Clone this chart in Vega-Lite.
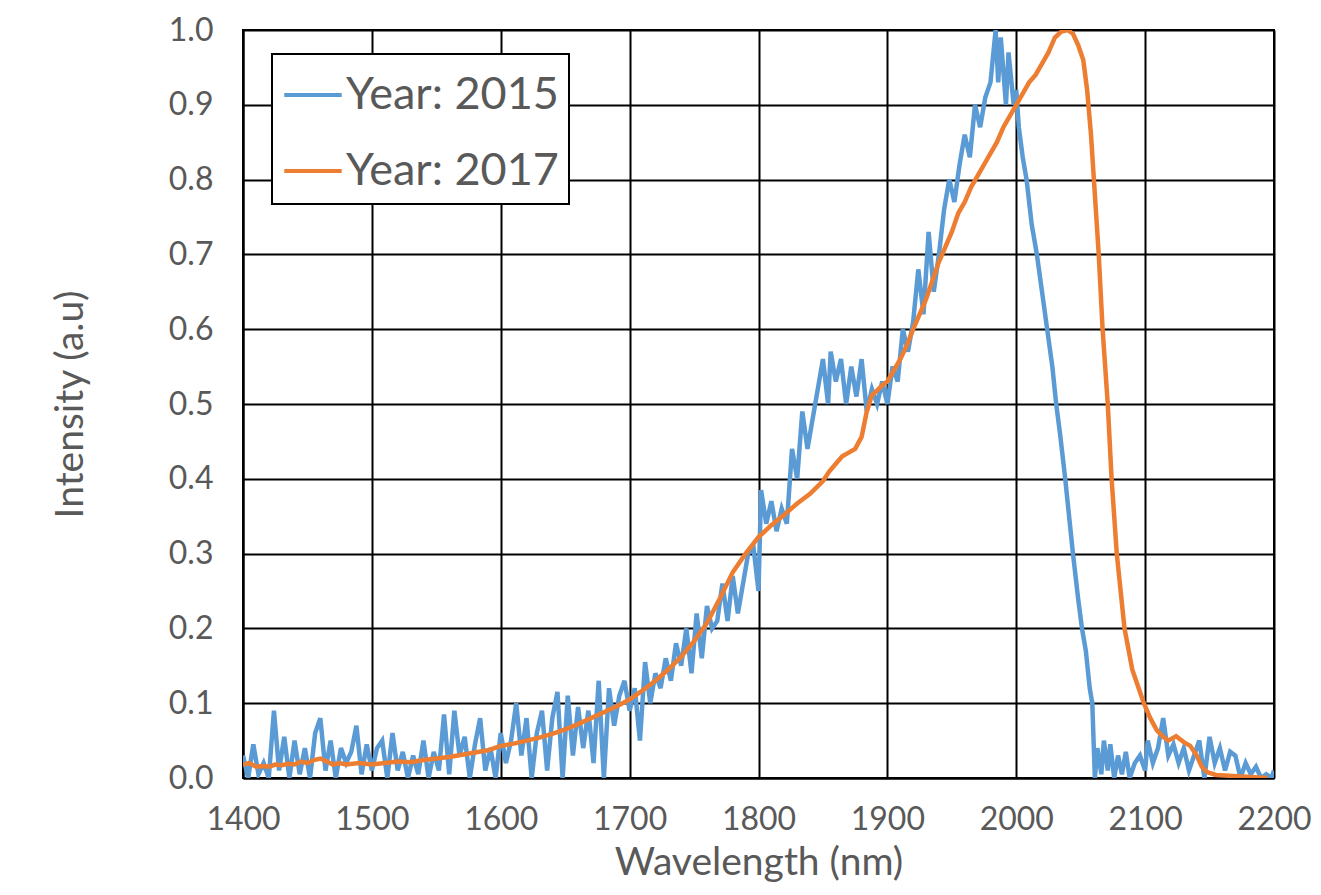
{
  "$schema": "https://vega.github.io/schema/vega-lite/v6.json",
  "width": 1031,
  "height": 748,
  "autosize": {"type": "none"},
  "padding": {"left": 243, "top": 30, "right": 47, "bottom": 117},
  "background": "white",
  "config": {
    "font": "Lato",
    "view": {"stroke": "black", "strokeWidth": 2},
    "axis": {
      "gridColor": "black", "gridWidth": 2, "gridOpacity": 1,
      "domainColor": "black", "domainWidth": 2,
      "ticks": false, "labelFlush": false, "labelOverlap": false,
      "labelColor": "#595959", "labelFont": "Lato", "labelFontSize": 32,
      "titleColor": "#595959", "titleFont": "Lato", "titleFontSize": 39, "titleFontWeight": "normal"
    },
    "legend": {
      "orient": "none", "legendX": 29, "legendY": 24,
      "fillColor": "white", "strokeColor": "black", "strokeWidth": 2,
      "padding": 10,
      "labelFont": "Lato", "labelFontSize": 45, "labelColor": "#595959", "labelLimit": 400,
      "symbolType": "stroke", "symbolSize": 3300, "symbolStrokeWidth": 4,
      "rowPadding": 22, "labelOffset": 2, "title": null
    }
  },
  "data": {"values": [
    {"s":"Year: 2015","w":1400,"v":0.03},{"s":"Year: 2015","w":1404,"v":0.0},{"s":"Year: 2015","w":1408,"v":0.045},{"s":"Year: 2015","w":1412,"v":0.005},{"s":"Year: 2015","w":1416,"v":0.02},{"s":"Year: 2015","w":1420,"v":0.0},{"s":"Year: 2015","w":1424,"v":0.09},{"s":"Year: 2015","w":1428,"v":0.01},{"s":"Year: 2015","w":1432,"v":0.055},{"s":"Year: 2015","w":1436,"v":0.0},{"s":"Year: 2015","w":1440,"v":0.05},{"s":"Year: 2015","w":1444,"v":0.005},{"s":"Year: 2015","w":1448,"v":0.04},{"s":"Year: 2015","w":1452,"v":0.0},{"s":"Year: 2015","w":1456,"v":0.06},{"s":"Year: 2015","w":1460,"v":0.08},{"s":"Year: 2015","w":1464,"v":0.01},{"s":"Year: 2015","w":1468,"v":0.05},{"s":"Year: 2015","w":1472,"v":0.0},{"s":"Year: 2015","w":1476,"v":0.04},{"s":"Year: 2015","w":1480,"v":0.02},{"s":"Year: 2015","w":1484,"v":0.035},{"s":"Year: 2015","w":1488,"v":0.07},{"s":"Year: 2015","w":1492,"v":0.005},{"s":"Year: 2015","w":1496,"v":0.045},{"s":"Year: 2015","w":1500,"v":0.01},{"s":"Year: 2015","w":1504,"v":0.04},{"s":"Year: 2015","w":1508,"v":0.05},{"s":"Year: 2015","w":1512,"v":0.0},{"s":"Year: 2015","w":1516,"v":0.06},{"s":"Year: 2015","w":1520,"v":0.01},{"s":"Year: 2015","w":1524,"v":0.035},{"s":"Year: 2015","w":1528,"v":0.0},{"s":"Year: 2015","w":1532,"v":0.03},{"s":"Year: 2015","w":1536,"v":0.005},{"s":"Year: 2015","w":1540,"v":0.05},{"s":"Year: 2015","w":1544,"v":0.0},{"s":"Year: 2015","w":1548,"v":0.035},{"s":"Year: 2015","w":1552,"v":0.01},{"s":"Year: 2015","w":1556,"v":0.085},{"s":"Year: 2015","w":1560,"v":0.005},{"s":"Year: 2015","w":1564,"v":0.09},{"s":"Year: 2015","w":1568,"v":0.03},{"s":"Year: 2015","w":1572,"v":0.055},{"s":"Year: 2015","w":1576,"v":0.0},{"s":"Year: 2015","w":1580,"v":0.045},{"s":"Year: 2015","w":1584,"v":0.08},{"s":"Year: 2015","w":1588,"v":0.01},{"s":"Year: 2015","w":1592,"v":0.04},{"s":"Year: 2015","w":1596,"v":0.0},{"s":"Year: 2015","w":1600,"v":0.06},{"s":"Year: 2015","w":1604,"v":0.02},{"s":"Year: 2015","w":1608,"v":0.05},{"s":"Year: 2015","w":1612,"v":0.1},{"s":"Year: 2015","w":1616,"v":0.03},{"s":"Year: 2015","w":1620,"v":0.08},{"s":"Year: 2015","w":1624,"v":0.0},{"s":"Year: 2015","w":1628,"v":0.06},{"s":"Year: 2015","w":1632,"v":0.09},{"s":"Year: 2015","w":1636,"v":0.01},{"s":"Year: 2015","w":1640,"v":0.08},{"s":"Year: 2015","w":1644,"v":0.115},{"s":"Year: 2015","w":1648,"v":0.0},{"s":"Year: 2015","w":1652,"v":0.11},{"s":"Year: 2015","w":1656,"v":0.03},{"s":"Year: 2015","w":1660,"v":0.095},{"s":"Year: 2015","w":1664,"v":0.04},{"s":"Year: 2015","w":1668,"v":0.09},{"s":"Year: 2015","w":1672,"v":0.02},{"s":"Year: 2015","w":1676,"v":0.13},{"s":"Year: 2015","w":1680,"v":0.0},{"s":"Year: 2015","w":1684,"v":0.12},{"s":"Year: 2015","w":1688,"v":0.07},{"s":"Year: 2015","w":1692,"v":0.11},{"s":"Year: 2015","w":1696,"v":0.13},{"s":"Year: 2015","w":1700,"v":0.09},{"s":"Year: 2015","w":1704,"v":0.12},{"s":"Year: 2015","w":1708,"v":0.05},{"s":"Year: 2015","w":1712,"v":0.155},{"s":"Year: 2015","w":1716,"v":0.1},{"s":"Year: 2015","w":1720,"v":0.14},{"s":"Year: 2015","w":1724,"v":0.12},{"s":"Year: 2015","w":1728,"v":0.16},{"s":"Year: 2015","w":1732,"v":0.13},{"s":"Year: 2015","w":1736,"v":0.18},{"s":"Year: 2015","w":1740,"v":0.15},{"s":"Year: 2015","w":1744,"v":0.2},{"s":"Year: 2015","w":1748,"v":0.14},{"s":"Year: 2015","w":1752,"v":0.22},{"s":"Year: 2015","w":1756,"v":0.16},{"s":"Year: 2015","w":1760,"v":0.23},{"s":"Year: 2015","w":1764,"v":0.2},{"s":"Year: 2015","w":1768,"v":0.21},{"s":"Year: 2015","w":1772,"v":0.26},{"s":"Year: 2015","w":1776,"v":0.21},{"s":"Year: 2015","w":1780,"v":0.27},{"s":"Year: 2015","w":1784,"v":0.22},{"s":"Year: 2015","w":1788,"v":0.26},{"s":"Year: 2015","w":1792,"v":0.3},{"s":"Year: 2015","w":1796,"v":0.31},{"s":"Year: 2015","w":1800,"v":0.25},{"s":"Year: 2015","w":1802,"v":0.385},{"s":"Year: 2015","w":1806,"v":0.34},{"s":"Year: 2015","w":1810,"v":0.37},{"s":"Year: 2015","w":1814,"v":0.33},{"s":"Year: 2015","w":1818,"v":0.36},{"s":"Year: 2015","w":1822,"v":0.34},{"s":"Year: 2015","w":1826,"v":0.44},{"s":"Year: 2015","w":1830,"v":0.4},{"s":"Year: 2015","w":1834,"v":0.49},{"s":"Year: 2015","w":1838,"v":0.44},{"s":"Year: 2015","w":1842,"v":0.48},{"s":"Year: 2015","w":1846,"v":0.52},{"s":"Year: 2015","w":1850,"v":0.56},{"s":"Year: 2015","w":1854,"v":0.5},{"s":"Year: 2015","w":1856,"v":0.57},{"s":"Year: 2015","w":1860,"v":0.53},{"s":"Year: 2015","w":1864,"v":0.56},{"s":"Year: 2015","w":1868,"v":0.5},{"s":"Year: 2015","w":1872,"v":0.55},{"s":"Year: 2015","w":1876,"v":0.51},{"s":"Year: 2015","w":1880,"v":0.56},{"s":"Year: 2015","w":1884,"v":0.49},{"s":"Year: 2015","w":1888,"v":0.52},{"s":"Year: 2015","w":1892,"v":0.5},{"s":"Year: 2015","w":1896,"v":0.53},{"s":"Year: 2015","w":1900,"v":0.5},{"s":"Year: 2015","w":1904,"v":0.55},{"s":"Year: 2015","w":1908,"v":0.53},{"s":"Year: 2015","w":1912,"v":0.6},{"s":"Year: 2015","w":1916,"v":0.57},{"s":"Year: 2015","w":1920,"v":0.61},{"s":"Year: 2015","w":1924,"v":0.68},{"s":"Year: 2015","w":1928,"v":0.62},{"s":"Year: 2015","w":1932,"v":0.73},{"s":"Year: 2015","w":1936,"v":0.65},{"s":"Year: 2015","w":1940,"v":0.7},{"s":"Year: 2015","w":1944,"v":0.76},{"s":"Year: 2015","w":1948,"v":0.8},{"s":"Year: 2015","w":1952,"v":0.77},{"s":"Year: 2015","w":1956,"v":0.82},{"s":"Year: 2015","w":1960,"v":0.86},{"s":"Year: 2015","w":1964,"v":0.83},{"s":"Year: 2015","w":1968,"v":0.9},{"s":"Year: 2015","w":1972,"v":0.87},{"s":"Year: 2015","w":1976,"v":0.91},{"s":"Year: 2015","w":1980,"v":0.93},{"s":"Year: 2015","w":1984,"v":1.0},{"s":"Year: 2015","w":1986,"v":0.93},{"s":"Year: 2015","w":1988,"v":0.99},{"s":"Year: 2015","w":1992,"v":0.9},{"s":"Year: 2015","w":1994,"v":0.97},{"s":"Year: 2015","w":1998,"v":0.9},{"s":"Year: 2015","w":2000,"v":0.92},{"s":"Year: 2015","w":2002,"v":0.87},{"s":"Year: 2015","w":2005,"v":0.83},{"s":"Year: 2015","w":2008,"v":0.8},{"s":"Year: 2015","w":2012,"v":0.74},{"s":"Year: 2015","w":2016,"v":0.7},{"s":"Year: 2015","w":2020,"v":0.65},{"s":"Year: 2015","w":2024,"v":0.6},{"s":"Year: 2015","w":2028,"v":0.55},{"s":"Year: 2015","w":2031,"v":0.5},{"s":"Year: 2015","w":2034,"v":0.46},{"s":"Year: 2015","w":2038,"v":0.4},{"s":"Year: 2015","w":2041,"v":0.35},{"s":"Year: 2015","w":2044,"v":0.3},{"s":"Year: 2015","w":2048,"v":0.24},{"s":"Year: 2015","w":2051,"v":0.2},{"s":"Year: 2015","w":2054,"v":0.17},{"s":"Year: 2015","w":2057,"v":0.12},{"s":"Year: 2015","w":2059,"v":0.1},{"s":"Year: 2015","w":2061,"v":0.0},{"s":"Year: 2015","w":2063,"v":0.04},{"s":"Year: 2015","w":2066,"v":0.005},{"s":"Year: 2015","w":2068,"v":0.05},{"s":"Year: 2015","w":2071,"v":0.01},{"s":"Year: 2015","w":2073,"v":0.045},{"s":"Year: 2015","w":2076,"v":0.0},{"s":"Year: 2015","w":2079,"v":0.03},{"s":"Year: 2015","w":2082,"v":0.005},{"s":"Year: 2015","w":2085,"v":0.035},{"s":"Year: 2015","w":2088,"v":0.0},{"s":"Year: 2015","w":2092,"v":0.02},{"s":"Year: 2015","w":2096,"v":0.03},{"s":"Year: 2015","w":2100,"v":0.01},{"s":"Year: 2015","w":2102,"v":0.05},{"s":"Year: 2015","w":2106,"v":0.02},{"s":"Year: 2015","w":2110,"v":0.04},{"s":"Year: 2015","w":2114,"v":0.08},{"s":"Year: 2015","w":2118,"v":0.03},{"s":"Year: 2015","w":2122,"v":0.045},{"s":"Year: 2015","w":2126,"v":0.02},{"s":"Year: 2015","w":2130,"v":0.04},{"s":"Year: 2015","w":2134,"v":0.01},{"s":"Year: 2015","w":2138,"v":0.03},{"s":"Year: 2015","w":2142,"v":0.05},{"s":"Year: 2015","w":2146,"v":0.0},{"s":"Year: 2015","w":2150,"v":0.055},{"s":"Year: 2015","w":2154,"v":0.02},{"s":"Year: 2015","w":2158,"v":0.04},{"s":"Year: 2015","w":2162,"v":0.01},{"s":"Year: 2015","w":2166,"v":0.035},{"s":"Year: 2015","w":2170,"v":0.03},{"s":"Year: 2015","w":2174,"v":0.0},{"s":"Year: 2015","w":2178,"v":0.02},{"s":"Year: 2015","w":2182,"v":0.005},{"s":"Year: 2015","w":2186,"v":0.015},{"s":"Year: 2015","w":2190,"v":0.0},{"s":"Year: 2015","w":2194,"v":0.005},{"s":"Year: 2015","w":2198,"v":0.0},{"s":"Year: 2015","w":2200,"v":0.01},
    {"s":"Year: 2017","w":1400,"v":0.018},{"s":"Year: 2017","w":1405,"v":0.02},{"s":"Year: 2017","w":1410,"v":0.015},{"s":"Year: 2017","w":1415,"v":0.016},{"s":"Year: 2017","w":1420,"v":0.015},{"s":"Year: 2017","w":1425,"v":0.018},{"s":"Year: 2017","w":1430,"v":0.017},{"s":"Year: 2017","w":1435,"v":0.019},{"s":"Year: 2017","w":1440,"v":0.018},{"s":"Year: 2017","w":1445,"v":0.022},{"s":"Year: 2017","w":1450,"v":0.02},{"s":"Year: 2017","w":1455,"v":0.024},{"s":"Year: 2017","w":1460,"v":0.026},{"s":"Year: 2017","w":1465,"v":0.022},{"s":"Year: 2017","w":1470,"v":0.018},{"s":"Year: 2017","w":1475,"v":0.02},{"s":"Year: 2017","w":1480,"v":0.018},{"s":"Year: 2017","w":1490,"v":0.02},{"s":"Year: 2017","w":1500,"v":0.018},{"s":"Year: 2017","w":1510,"v":0.02},{"s":"Year: 2017","w":1520,"v":0.022},{"s":"Year: 2017","w":1530,"v":0.021},{"s":"Year: 2017","w":1540,"v":0.024},{"s":"Year: 2017","w":1550,"v":0.026},{"s":"Year: 2017","w":1560,"v":0.028},{"s":"Year: 2017","w":1570,"v":0.031},{"s":"Year: 2017","w":1580,"v":0.034},{"s":"Year: 2017","w":1590,"v":0.037},{"s":"Year: 2017","w":1600,"v":0.043},{"s":"Year: 2017","w":1610,"v":0.046},{"s":"Year: 2017","w":1620,"v":0.05},{"s":"Year: 2017","w":1630,"v":0.054},{"s":"Year: 2017","w":1640,"v":0.059},{"s":"Year: 2017","w":1650,"v":0.065},{"s":"Year: 2017","w":1660,"v":0.072},{"s":"Year: 2017","w":1670,"v":0.08},{"s":"Year: 2017","w":1680,"v":0.088},{"s":"Year: 2017","w":1690,"v":0.096},{"s":"Year: 2017","w":1700,"v":0.105},{"s":"Year: 2017","w":1710,"v":0.117},{"s":"Year: 2017","w":1720,"v":0.13},{"s":"Year: 2017","w":1730,"v":0.145},{"s":"Year: 2017","w":1740,"v":0.162},{"s":"Year: 2017","w":1750,"v":0.183},{"s":"Year: 2017","w":1760,"v":0.207},{"s":"Year: 2017","w":1770,"v":0.24},{"s":"Year: 2017","w":1780,"v":0.275},{"s":"Year: 2017","w":1790,"v":0.3},{"s":"Year: 2017","w":1800,"v":0.322},{"s":"Year: 2017","w":1810,"v":0.338},{"s":"Year: 2017","w":1820,"v":0.352},{"s":"Year: 2017","w":1830,"v":0.367},{"s":"Year: 2017","w":1840,"v":0.38},{"s":"Year: 2017","w":1850,"v":0.397},{"s":"Year: 2017","w":1855,"v":0.41},{"s":"Year: 2017","w":1860,"v":0.42},{"s":"Year: 2017","w":1865,"v":0.43},{"s":"Year: 2017","w":1870,"v":0.435},{"s":"Year: 2017","w":1875,"v":0.44},{"s":"Year: 2017","w":1880,"v":0.456},{"s":"Year: 2017","w":1884,"v":0.49},{"s":"Year: 2017","w":1888,"v":0.512},{"s":"Year: 2017","w":1892,"v":0.518},{"s":"Year: 2017","w":1896,"v":0.525},{"s":"Year: 2017","w":1900,"v":0.53},{"s":"Year: 2017","w":1905,"v":0.545},{"s":"Year: 2017","w":1910,"v":0.56},{"s":"Year: 2017","w":1915,"v":0.578},{"s":"Year: 2017","w":1920,"v":0.6},{"s":"Year: 2017","w":1925,"v":0.62},{"s":"Year: 2017","w":1930,"v":0.64},{"s":"Year: 2017","w":1935,"v":0.665},{"s":"Year: 2017","w":1940,"v":0.69},{"s":"Year: 2017","w":1945,"v":0.71},{"s":"Year: 2017","w":1950,"v":0.73},{"s":"Year: 2017","w":1955,"v":0.755},{"s":"Year: 2017","w":1960,"v":0.77},{"s":"Year: 2017","w":1965,"v":0.79},{"s":"Year: 2017","w":1970,"v":0.805},{"s":"Year: 2017","w":1975,"v":0.82},{"s":"Year: 2017","w":1980,"v":0.835},{"s":"Year: 2017","w":1985,"v":0.85},{"s":"Year: 2017","w":1990,"v":0.87},{"s":"Year: 2017","w":1995,"v":0.885},{"s":"Year: 2017","w":2000,"v":0.9},{"s":"Year: 2017","w":2005,"v":0.915},{"s":"Year: 2017","w":2010,"v":0.93},{"s":"Year: 2017","w":2015,"v":0.94},{"s":"Year: 2017","w":2020,"v":0.955},{"s":"Year: 2017","w":2025,"v":0.97},{"s":"Year: 2017","w":2030,"v":0.99},{"s":"Year: 2017","w":2035,"v":0.998},{"s":"Year: 2017","w":2040,"v":1.0},{"s":"Year: 2017","w":2044,"v":0.995},{"s":"Year: 2017","w":2048,"v":0.98},{"s":"Year: 2017","w":2052,"v":0.96},{"s":"Year: 2017","w":2055,"v":0.92},{"s":"Year: 2017","w":2058,"v":0.86},{"s":"Year: 2017","w":2061,"v":0.78},{"s":"Year: 2017","w":2064,"v":0.7},{"s":"Year: 2017","w":2067,"v":0.6},{"s":"Year: 2017","w":2071,"v":0.5},{"s":"Year: 2017","w":2074,"v":0.4},{"s":"Year: 2017","w":2078,"v":0.3},{"s":"Year: 2017","w":2084,"v":0.2},{"s":"Year: 2017","w":2090,"v":0.145},{"s":"Year: 2017","w":2095,"v":0.12},{"s":"Year: 2017","w":2099,"v":0.1},{"s":"Year: 2017","w":2104,"v":0.08},{"s":"Year: 2017","w":2109,"v":0.064},{"s":"Year: 2017","w":2114,"v":0.055},{"s":"Year: 2017","w":2118,"v":0.05},{"s":"Year: 2017","w":2124,"v":0.056},{"s":"Year: 2017","w":2130,"v":0.048},{"s":"Year: 2017","w":2135,"v":0.043},{"s":"Year: 2017","w":2140,"v":0.03},{"s":"Year: 2017","w":2144,"v":0.015},{"s":"Year: 2017","w":2148,"v":0.008},{"s":"Year: 2017","w":2155,"v":0.004},{"s":"Year: 2017","w":2165,"v":0.003},{"s":"Year: 2017","w":2175,"v":0.002},{"s":"Year: 2017","w":2185,"v":0.001},{"s":"Year: 2017","w":2195,"v":0.0}
  ]},
  "mark": {"type": "line", "strokeWidth": 4.5, "clip": true},
  "encoding": {
    "x": {"field": "w", "type": "quantitative", "title": "Wavelength (nm)",
      "scale": {"domain": [1400, 2200], "nice": false},
      "axis": {"values": [1400,1500,1600,1700,1800,1900,2000,2100,2200], "format": "d", "labelPadding": 26, "titlePadding": 8}},
    "y": {"field": "v", "type": "quantitative", "title": "Intensity (a.u)",
      "scale": {"domain": [0, 1], "nice": false},
      "axis": {"values": [0,0.1,0.2,0.3,0.4,0.5,0.6,0.7,0.8,0.9,1.0], "format": ".1f", "labelPadding": 30, "titlePadding": 78}},
    "color": {"field": "s", "type": "nominal",
      "scale": {"domain": ["Year: 2015", "Year: 2017"], "range": ["#5B9BD5", "#ED7D31"]}},
    "order": {"field": "w", "type": "quantitative"}
  }
}
